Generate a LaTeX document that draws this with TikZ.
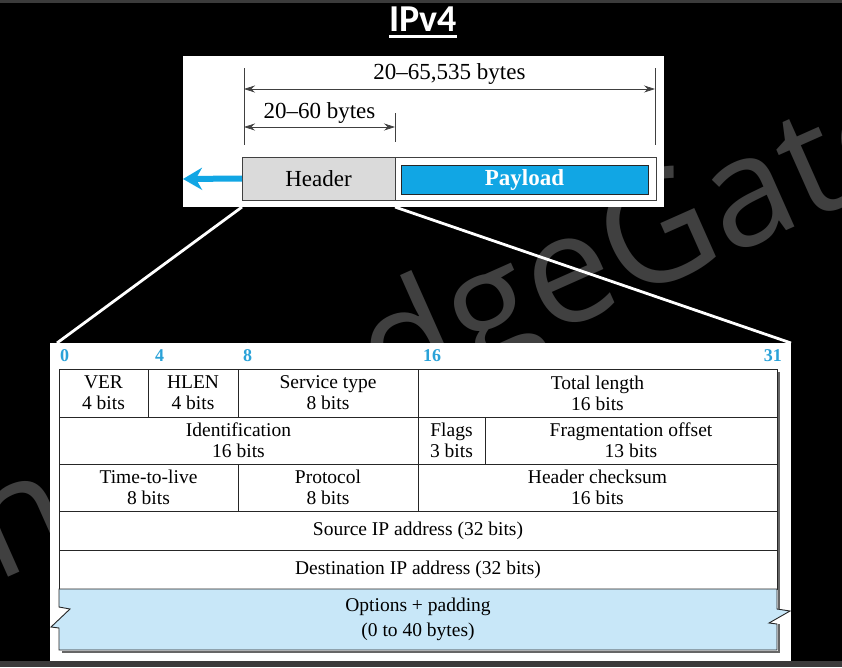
\documentclass[tikz,border=0pt]{standalone}
\usepackage{fontspec}
\setmainfont{Liberation Serif}
\newfontfamily\titlefont{Carlito}
\newfontfamily\markfont{Open Sans}
\usetikzlibrary{arrows.meta,calc,positioning}

\definecolor{ipblue}{HTML}{11A6E4}
\definecolor{bitblue}{HTML}{2AA2D8}
\definecolor{optblue}{HTML}{C8E7F8}
\definecolor{hdrgray}{HTML}{DADADA}
\definecolor{markgray}{HTML}{404040}
\definecolor{stripgray}{HTML}{3B3B3B}

\begin{document}
\begin{tikzpicture}[x=1pt,y=-1pt,>={Stealth[length=11pt,width=7pt]},
    field/.style={draw=black!85,line width=0.9pt,inner sep=0pt,outer sep=0pt,
      align=center,font=\fontsize{19.5}{21}\selectfont},
    bitno/.style={text=bitblue,inner sep=0pt,font=\bfseries\fontsize{18}{18}\selectfont},
    toptext/.style={inner sep=0pt,font=\fontsize{23}{23}\selectfont},
    dim/.style={<->,line width=0.7pt,draw=black!75},
    tick/.style={line width=0.7pt,draw=black!75},
    zoomline/.style={white,line width=2.8pt},
    shadow/.style={line width=2.5pt,draw=black!60}]

    % background and watermark
    \useasboundingbox (0,0) rectangle (842,667);
    \clip (0,0) rectangle (842,667);
    \fill[black] (0,0) rectangle (842,667);
    \fill[stripgray] (0,0) rectangle (842,3);
    \fill[stripgray] (0,661) rectangle (842,667);
    \node[markgray,rotate=24,anchor=base west,inner sep=0pt,
      font=\markfont\fontsize{153}{153}\selectfont] (mark) at (-90,621) {KnowledgeGate};

    % title
    \node[white,inner sep=0pt,font=\titlefont\bfseries\fontsize{38}{38}\selectfont] (title) at (423,19) {IPv4};
    \draw[white,line width=2.5pt] ($(title.base west)+(0,5)$) -- ($(title.base east)+(0,5)$);

    % datagram
    \node[fill=white,minimum width=481pt,minimum height=151pt,inner sep=0pt,outer sep=0pt] (toppanel) at (423.5,131.5) {};
    \node[draw=black!75,line width=0.8pt,minimum width=414pt,minimum height=43pt,inner sep=0pt,outer sep=0pt] (frame) at (449,178.5) {};
    \node[draw=black!75,fill=hdrgray,line width=0.8pt,minimum width=153pt,minimum height=43pt,
      outer sep=0pt,toptext,anchor=west] (header) at (frame.west) {Header};
    \node[draw=black!85,fill=ipblue,line width=1pt,minimum width=247pt,minimum height=29pt,inner sep=0pt,
      text=white,font=\bfseries\fontsize{23}{23}\selectfont] (payload) at (524.5,180) {Payload};
    \coordinate (out) at (183,179);
    \draw[ipblue,line width=6pt,-{Stealth[length=19pt,width=22pt]}] (header.west) -- (out);

    \coordinate (tick-l) at (244,68);
    \coordinate (tick-m) at (395,113);
    \coordinate (tick-r) at (655,68);
    \draw[tick] (tick-l) -- ++(0,77);
    \draw[tick] (tick-m) -- ++(0,29);
    \draw[tick] (tick-r) -- ++(0,77);
    \draw[dim] ($(tick-l)+(0,21)$) -- node[toptext,above=4pt] (total) {20--65,535 bytes} ($(tick-r)+(0,21)$);
    \draw[dim] ($(tick-l)+(0,59)$) -- node[toptext,above=3pt] (hdrlen) {20--60 bytes} ($(tick-m)+(0,14)$);

    % header fields
    \node[fill=white,minimum width=741pt,minimum height=318pt,inner sep=0pt,outer sep=0pt] (table) at (420.5,502) {};

    \node[field,minimum width=89pt,minimum height=48pt,anchor=north west] (ver) at (59,369) {VER\\4 bits};
    \node[field,minimum width=90pt,minimum height=48pt] (hlen) [right=0pt of ver] {HLEN\\4 bits};
    \node[field,minimum width=180pt,minimum height=48pt] (service) [right=0pt of hlen] {Service type\\8 bits};
    \node[field,minimum width=359pt,minimum height=48pt] (totlen) [right=0pt of service] {Total length\\16 bits};

    \node[field,minimum width=359pt,minimum height=47pt,anchor=north west] (ident) at (ver.south west) {Identification\\16 bits};
    \node[field,minimum width=67pt,minimum height=47pt] (flags) [right=0pt of ident] {Flags\\3 bits};
    \node[field,minimum width=292pt,minimum height=47pt] (fragoff) [right=0pt of flags] {Fragmentation offset\\13 bits};

    \node[field,minimum width=179pt,minimum height=47pt,anchor=north west] (ttl) at (ident.south west) {Time-to-live\\8 bits};
    \node[field,minimum width=180pt,minimum height=47pt] (proto) [right=0pt of ttl] {Protocol\\8 bits};
    \node[field,minimum width=359pt,minimum height=47pt] (checksum) [right=0pt of proto] {Header checksum\\16 bits};

    \node[field,minimum width=718pt,minimum height=39pt,anchor=north west] (srcip) at (ttl.south west) {Source IP address (32 bits)};
    \node[field,minimum width=718pt,minimum height=39pt,anchor=north west] (dstip) at (srcip.south west) {Destination IP address (32 bits)};

    \filldraw[fill=optblue,draw=black!85,line width=0.9pt] (dstip.south west) -- (dstip.south east)
      -- ++(0,20) -- ++(13,2) -- ++(-21,12) -- ++(8,1) -- ++(0,26) -- ++(-718,0)
      -- ++(0,-22) -- ++(-8,-1) -- ++(19,-18) -- ++(-11,-2) -- cycle;
    \node[field,draw=none,minimum width=718pt,minimum height=61pt,anchor=north] (options) at (dstip.south)
      {Options + padding\\[4pt](0 to 40 bytes)};
    \draw[shadow] ($(totlen.north east)+(2,3)$) -- ($(dstip.south east)+(2,20)$);
    \draw[shadow] ($(dstip.south east)+(2,35)$) -- ($(dstip.south east)+(2,63)$) -- ($(dstip.south west)+(3,63)$);

    % bit positions
    \node[bitno,anchor=base west] (b0) at ($(ver.north west)+(1,-8)$) {0};
    \node[bitno,anchor=base west] (b4) at ($(hlen.north west)+(7,-8)$) {4};
    \node[bitno,anchor=base west] (b8) at ($(service.north west)+(5,-8)$) {8};
    \node[bitno,anchor=base west] (b16) at ($(totlen.north west)+(5,-8)$) {16};
    \node[bitno,anchor=base east] (b31) at ($(totlen.north east)+(5,-8)$) {31};

    % zoom from header to fields
    \draw[zoomline] (header.south west |- toppanel.south) -- ([xshift=7pt]table.north west);
    \draw[zoomline] (header.south east |- toppanel.south) -- (table.north east);

\end{tikzpicture}
\end{document}
